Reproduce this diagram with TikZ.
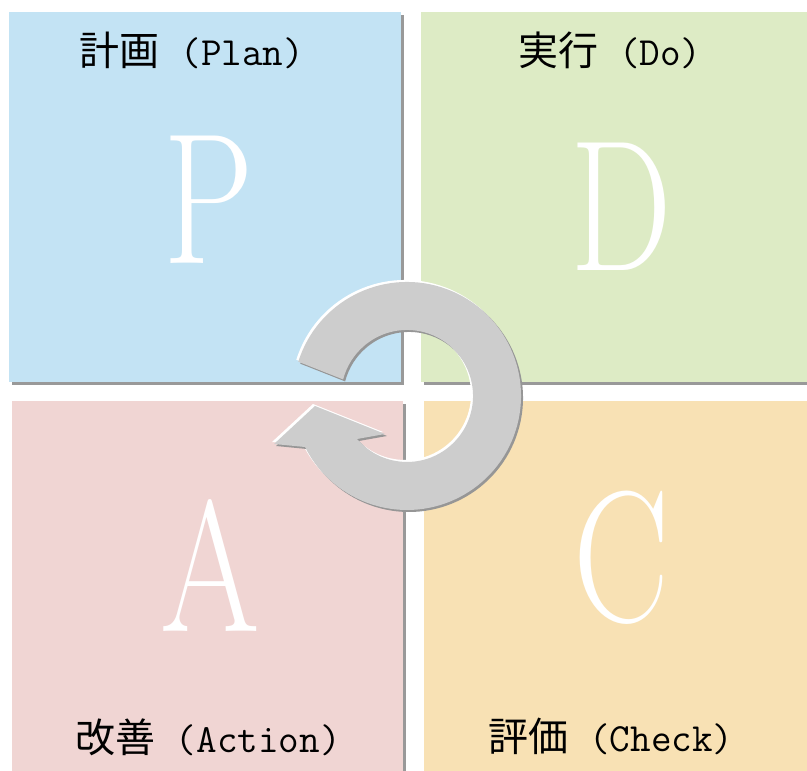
\documentclass[tikz,border=0pt]{standalone}
\usepackage{fontspec}
\newfontfamily\cjk{Noto Sans CJK JP}
\usepackage{graphicx}
\usepackage{tikz}
\usetikzlibrary{shadows}

\definecolor{plancol}{RGB}{195,227,244}
\definecolor{docol}{RGB}{221,235,197}
\definecolor{actcol}{RGB}{240,213,211}
\definecolor{checkcol}{RGB}{248,225,180}
\definecolor{ringgray}{RGB}{205,205,205}
\definecolor{ringshade}{RGB}{150,150,150}

\newcommand{\stagename}[2]{{\cjk #1}{\ttfamily\ (#2)}}
\newcommand{\bigletter}[1]{\scalebox{0.77}[1]{#1}}

\begin{document}
\begin{tikzpicture}[
    x=0.75pt, y=0.75pt,
    quad/.style={rectangle, inner sep=0, minimum width=294pt, minimum height=277.5pt,
        drop shadow={shadow xshift=2.4pt, shadow yshift=-2.4pt, fill=black!40, opacity=1}},
    letter/.style={text=white, inner sep=0, font=\fontsize{140}{140}\selectfont},
    stagelabel/.style={inner sep=0, font=\fontsize{30}{36}\selectfont}
]
    \useasboundingbox (0,0) rectangle (807,771);

    % four quadrants
    \node[quad, fill=plancol] (plan) at (205,574) {};
    \node[quad, fill=docol, minimum width=291pt] (do) at (615,574) {};
    \node[quad, fill=actcol, minimum width=293.25pt] (act) at (207.5,185) {};
    \node[quad, fill=checkcol, minimum width=291pt] (check) at (618,185) {};

    \node[letter] (bigP) at (209,571) {\bigletter{P}};
    \node[letter] (bigD) at (621,564) {\bigletter{D}};
    \node[letter] (bigA) at (210,205) {\bigletter{A}};
    \node[letter] (bigC) at (622,213) {\bigletter{C}};

    \node[stagelabel] (planlbl) at (192,721) {\stagename{計画}{Plan}};
    \node[stagelabel] (dolbl) at (610,721) {\stagename{実行}{Do}};
    \node[stagelabel] (actlbl) at (208,34) {\stagename{改善}{Action}};
    \node[stagelabel] (checklbl) at (611,35) {\stagename{評価}{Check}};

    % cycle arrow: highlight, shade, body
    \foreach \dx/\dy/\shade in {-2/2/white, 2/-2/ringshade, 0/0/ringgray}
        \fill[\shade, shift={(\dx,\dy)}] (298.3,409.3)
            arc[start angle=162.5, end angle=-153.4, radius=114]
            -- (274,327) -- (315,365) -- (385,337) -- (357,332)
            arc[start angle=-139.3, end angle=165.5, radius=66] -- cycle;
\end{tikzpicture}
\end{document}
